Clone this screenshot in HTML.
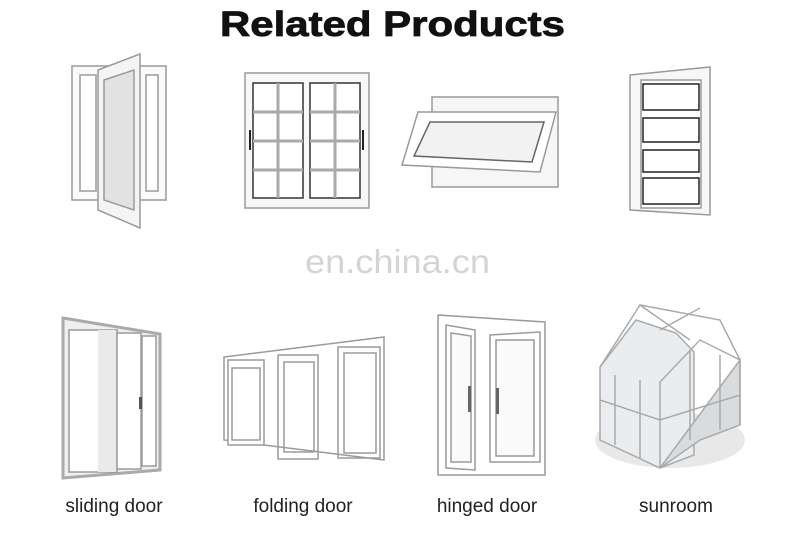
<!DOCTYPE html>
<html><head><meta charset="utf-8"><style>
html,body{margin:0;padding:0;background:#fff;width:790px;height:543px;overflow:hidden}
svg{display:block}
</style></head><body>
<svg width="790" height="543" viewBox="0 0 790 543" xmlns="http://www.w3.org/2000/svg" font-family="Liberation Sans, sans-serif">
<text x="220" y="36" textLength="345" lengthAdjust="spacingAndGlyphs" font-size="35" font-weight="bold" fill="#111" stroke="#111" stroke-width="0.8">Related Products</text>
<text x="305" y="273" textLength="185" lengthAdjust="spacingAndGlyphs" font-size="33" fill="#d4d4d4">en.china.cn</text>
<g fill="none" stroke="#9a9a9a" stroke-width="1.5">
<!-- casement -->
<rect x="72" y="66" width="94" height="134" fill="#fafafa"/>
<rect x="80" y="75" width="16" height="116" fill="#fff"/>
<rect x="146" y="75" width="12" height="116" fill="#fff"/>
<polygon points="98,70 140,54 140,228 98,210" fill="#f4f4f4"/>
<polygon points="104,80 134,70 134,210 104,200" fill="#e2e2e2"/>
<!-- sliding window -->
<rect x="245" y="73" width="124" height="135" fill="#f8f8f8"/>
<rect x="253" y="83" width="50" height="115" fill="#fff" stroke="#333"/>
<rect x="310" y="83" width="50" height="115" fill="#fff" stroke="#333"/>
<path d="M278 83V198M253 112H303M253 141H303M253 170H303M335 83V198M310 112H360M310 141H360M310 170H360" stroke="#aaa" stroke-width="3"/>
<rect x="249" y="130" width="2" height="20" fill="#222" stroke="none"/>
<rect x="362" y="130" width="2" height="20" fill="#222" stroke="none"/>
<!-- awning -->
<rect x="432" y="97" width="126" height="90" fill="#f6f6f6"/>
<polygon points="418,112 556,112 540,172 402,165" fill="#fff"/>
<polygon points="430,122 544,122 532,162 414,156" fill="#f2f2f2" stroke="#666"/>
<!-- hung -->
<polygon points="630,75 710,67 710,215 630,210" fill="#f7f7f7"/>
<rect x="641" y="80" width="60" height="128" fill="#fff"/>
<rect x="643" y="84" width="56" height="26" stroke="#222"/>
<rect x="643" y="118" width="56" height="24" stroke="#222"/>
<rect x="643" y="150" width="56" height="22" stroke="#222"/>
<rect x="643" y="178" width="56" height="26" stroke="#222"/>
<!-- sliding door -->
<polygon points="63,318 160,334 160,470 63,478" fill="#efefef" stroke="#aaa" stroke-width="3"/>
<rect x="69" y="330" width="48" height="142" fill="#fff"/>
<rect x="98" y="330" width="18" height="142" fill="#eaeaea" stroke="none"/>
<rect x="117" y="333" width="24" height="136" fill="#fff"/>
<rect x="142" y="336" width="14" height="130" fill="#fff"/>
<rect x="139" y="397" width="3" height="12" fill="#555" stroke="none"/>
<!-- folding door -->
<polygon points="224,357 384,337 384,460 224,440" fill="#fff"/>
<rect x="228" y="360" width="36" height="85" fill="#fff"/>
<rect x="232" y="368" width="28" height="72"/>
<rect x="278" y="355" width="40" height="104"/>
<rect x="284" y="362" width="30" height="90"/>
<rect x="338" y="347" width="42" height="111"/>
<rect x="344" y="353" width="32" height="100"/>
<!-- hinged door -->
<polygon points="438,315 545,322 545,475 438,475" fill="#fff"/>
<polygon points="446,325 475,330 475,470 446,468"/>
<polygon points="451,333 471,336 471,462 451,462" fill="#fafafa"/>
<polygon points="490,335 540,332 540,462 490,462"/>
<polygon points="496,340 534,340 534,456 496,456" fill="#fafafa"/>
<rect x="468" y="386" width="3" height="26" fill="#666" stroke="none"/>
<rect x="496" y="388" width="3" height="26" fill="#666" stroke="none"/>
<!-- sunroom -->
<ellipse cx="670" cy="440" rx="75" ry="28" fill="#e8e8e8" stroke="none"/>
<polygon points="600,367 636,320 676,333 694,352 694,455 660,468 600,440" fill="#e9edf0" stroke="#aaa"/>
<polygon points="660,468 700,440 740,425 740,360" fill="#d9dcde" stroke="#aaa"/>
<path d="M600,367 L640,305 L720,320 L740,360 M640,305 L690,340 M660,330 L700,308 M660,468 L660,382 L700,340 L740,360 L740,425 M615,375 L615,445 M640,380 L640,458 M690,350 L690,440 M720,355 L720,430 M600,400 L660,420 L740,395" stroke="#aaa"/>
</g>
<g font-size="19" fill="#222" text-anchor="middle">
<text x="114" y="512">sliding door</text>
<text x="303" y="512">folding door</text>
<text x="487" y="512">hinged door</text>
<text x="676" y="512">sunroom</text>
</g>
</svg>
</body></html>
